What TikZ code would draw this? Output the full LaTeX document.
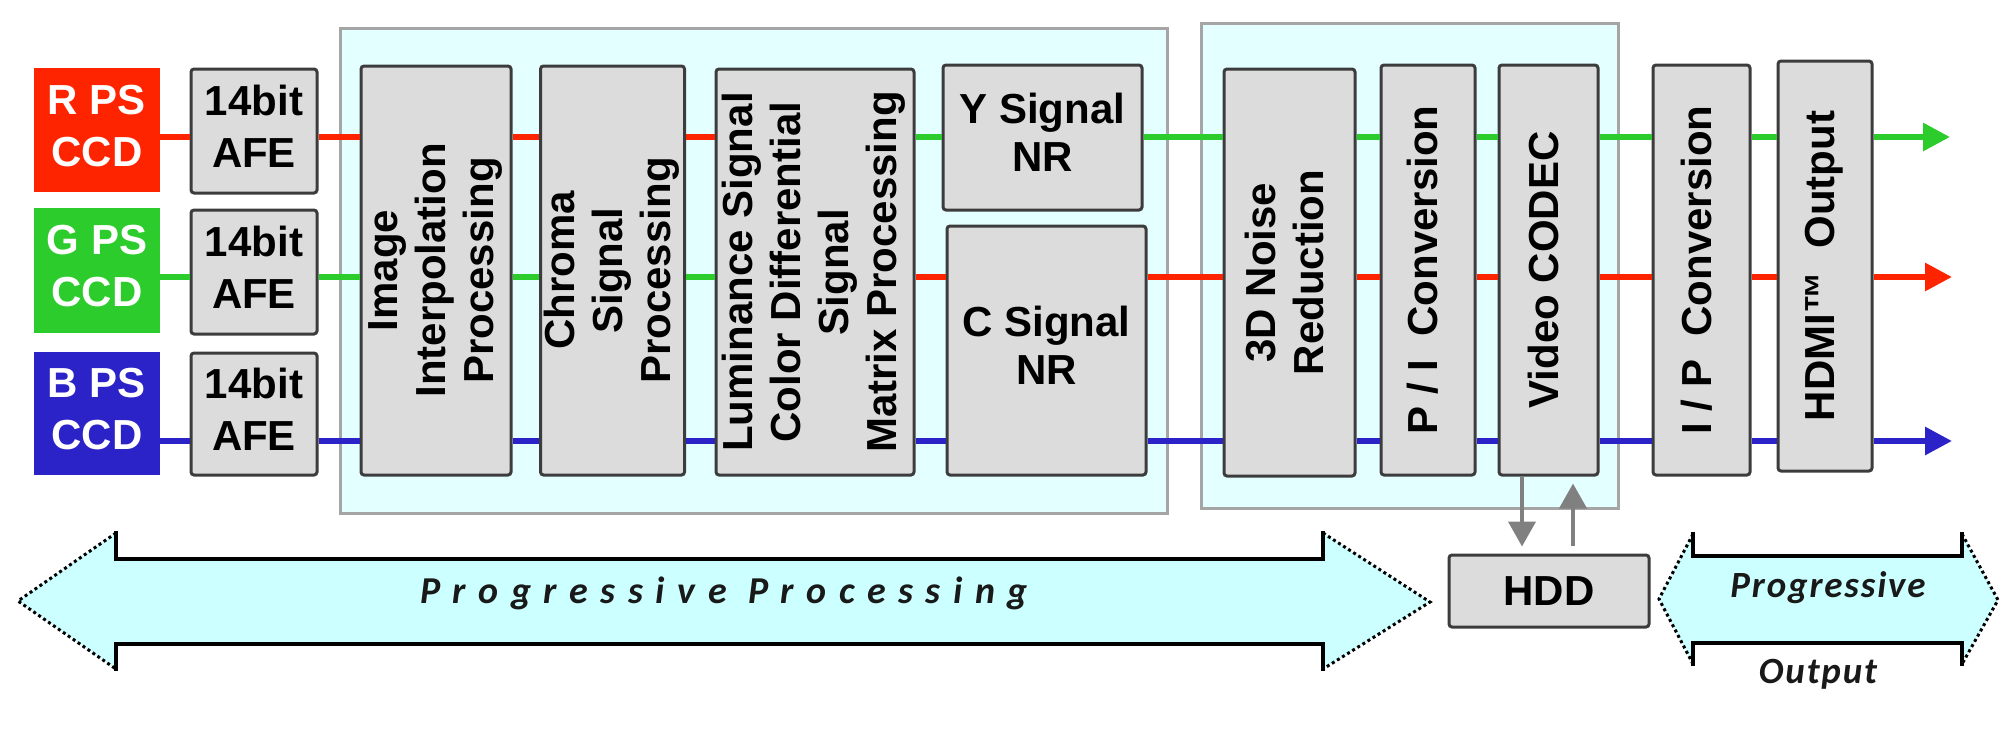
\documentclass[tikz,border=0pt]{standalone}
\usepackage{fontspec}
\setmainfont{Liberation Sans}
\newfontfamily\arrowfont[LetterSpace=5]{Carlito}
\newfontfamily\arrowfontwide[LetterSpace=33]{Carlito}
\usetikzlibrary{arrows.meta}
\definecolor{sigR}{RGB}{255,36,0}
\definecolor{sigG}{RGB}{44,204,44}
\definecolor{sigB}{RGB}{43,34,200}
\definecolor{boxfill}{RGB}{220,220,220}
\definecolor{boxline}{RGB}{60,60,60}
\definecolor{panelfill}{RGB}{227,255,255}
\definecolor{panelline}{RGB}{165,165,165}
\definecolor{arrowfill}{RGB}{204,255,255}
\definecolor{hddgray}{RGB}{128,128,128}
\definecolor{textdark}{RGB}{25,25,25}
\newcommand\vlab[1]{\rotatebox{90}{\begin{tabular}{@{}c@{}}#1\end{tabular}}}
\newcommand\hlab[1]{\begin{tabular}{@{}c@{}}#1\end{tabular}}
\newcommand\clab[1]{\raisebox{-5pt}{\fontsize{42}{52}\selectfont\begin{tabular}{@{}c@{}}#1\end{tabular}}}
\tikzset{
  sz/.style 2 args={minimum width=#1pt, minimum height=#2pt},
  blk/.style={draw=boxline, fill=boxfill, line width=3pt, rounded corners=3pt, inner sep=0pt},
  ccd/.style={fill=#1, text=white, inner sep=0pt},
  panel/.style={draw=panelline, fill=panelfill, line width=3pt, inner sep=0pt},
  sigline/.style={line width=6pt},
  outarr/.style={sigline, -{Triangle[length=27pt,width=27pt]}},
  hddarr/.style={draw=hddgray, line width=4pt, -{Triangle[length=25pt,width=27pt]}},
  bigarrow/.style={fill=arrowfill},
  solidedge/.style={line width=3.5pt, line cap=rect},
  dotedge/.style={line width=3pt, dash pattern=on 3pt off 3pt},
  arrtext/.style={text=textdark, anchor=base},
}
\begin{document}
\begin{tikzpicture}[x=1pt,y=-1pt, font=\fontsize{42}{48}\selectfont\bfseries]
\useasboundingbox (0,0) rectangle (2000,734);

% panels
\node[panel, sz={827}{485}] (p1) at (753.5,270.5) {};
\node[panel, sz={417}{485}] (p2) at (1409.5,265.5) {};

% sensor blocks
\node[ccd=sigR, sz={126}{124}] (rccd) at (97,130) {\clab{R PS\\CCD}};
\node[ccd=sigG, sz={126}{125}] (gccd) at (97,270.5) {\clab{G PS\\CCD}};
\node[ccd=sigB, sz={126}{123}] (bccd) at (97,413.5) {\clab{B PS\\CCD}};

\node[blk, sz={126}{124}] (rafe) at (254,131) {\clab{14bit\\AFE}};
\node[blk, sz={126}{124}] (gafe) at (254,272) {\clab{14bit\\AFE}};
\node[blk, sz={126}{122}] (bafe) at (254,414) {\clab{14bit\\AFE}};

% processing blocks
\node[blk, sz={150}{409}] (interp) at (436,270.5) {\vlab{Image\\Interpolation\\Processing}};
\node[blk, sz={141}{409}] (chroma) at (612.5,270.5) {\vlab{Chroma\\Signal\\Processing}};
\node[blk, sz={198}{406}] (lum) at (815,272) {\vlab{Luminance Signal\\Color Differential\\Signal\\Matrix Processing}};
\node[blk, sz={199}{145}] (ynr) at (1042.5,137.5) {\hlab{Y Signal\\NR}};
\node[blk, sz={199}{249}] (cnr) at (1046.5,350.5) {\raisebox{3pt}{\hlab{C Signal\\NR}}};
\node[blk, sz={131}{407}] (nr3d) at (1289.5,272.5) {\vlab{3D Noise\\Reduction}};
\node[blk, sz={94}{410}] (pi) at (1428,270) {\vlab{P / I~~Conversion}};
\node[blk, sz={99}{410}] (codec) at (1548.5,270) {\vlab{Video CODEC}};
\node[blk, sz={97}{410}] (ip) at (1701.5,270) {\vlab{I / P~~Conversion}};
\node[blk, sz={94}{410}] (hdmi) at (1825,266) {\vlab{HDMI™~~Output}};
\node[blk, sz={200}{72}] (hdd) at (1549,591) {HDD};

% signal rows
\coordinate (yT) at (0,137);
\coordinate (yM) at (0,277);
\coordinate (yB) at (0,441);
\coordinate (outT) at (1950,137);
\coordinate (outM) at (1952,277);
\coordinate (outB) at (1952,441);

\foreach \a/\b in {rccd/rafe, rafe/interp, interp/chroma, chroma/lum}
  \draw[sigline, sigR] (\a.east|-yT) -- (\b.west|-yT);
\foreach \a/\b in {gccd/gafe, gafe/interp, interp/chroma, chroma/lum}
  \draw[sigline, sigG] (\a.east|-yM) -- (\b.west|-yM);
\foreach \a/\b in {bccd/bafe, bafe/interp, interp/chroma, chroma/lum, lum/cnr, cnr/nr3d, nr3d/pi, pi/codec, codec/ip, ip/hdmi}
  \draw[sigline, sigB] (\a.east|-yB) -- (\b.west|-yB);
\foreach \a/\b in {lum/ynr, ynr/nr3d, nr3d/pi, pi/codec, codec/ip, ip/hdmi}
  \draw[sigline, sigG] (\a.east|-yT) -- (\b.west|-yT);
\foreach \a/\b in {lum/cnr, cnr/nr3d, nr3d/pi, pi/codec, codec/ip, ip/hdmi}
  \draw[sigline, sigR] (\a.east|-yM) -- (\b.west|-yM);
\draw[outarr, sigG] (hdmi.east|-yT) -- (outT);
\draw[outarr, sigR] (hdmi.east|-yM) -- (outM);
\draw[outarr, sigB] (hdmi.east|-yB) -- (outB);

% HDD links
\coordinate (dnx) at (1522,0);
\coordinate (upx) at (1573,0);
\draw[hddarr, shorten >=7pt] (codec.south-|dnx) -- (hdd.north-|dnx);
\draw[hddarr, shorten >=7pt, shorten <=8pt] (hdd.north-|upx) -- (codec.south-|upx);

% big progressive processing arrow
\fill[bigarrow] (18,601) -- (116,533) -- (116,559) -- (1323,559) -- (1323,533) -- (1430,602)
  -- (1323,669) -- (1323,644) -- (116,644) -- (116,669) -- cycle;
\draw[solidedge] (116,533) -- (116,559) -- (1323,559) -- (1323,533);
\draw[solidedge] (116,669) -- (116,644) -- (1323,644) -- (1323,669);
\draw[dotedge] (116,533) -- (18,601) -- (116,669);
\draw[dotedge] (1323,533) -- (1430,602) -- (1323,669);
\node[arrtext, font=\fontsize{38}{44}\selectfont\arrowfontwide\bfseries\itshape] (pptext) at (724,603) {Progressive Processing};

% progressive output arrow
\fill[bigarrow] (1659,599) -- (1693,534) -- (1693,556) -- (1962,556) -- (1962,534) -- (1998,600)
  -- (1962,664) -- (1962,643) -- (1693,643) -- (1693,664) -- cycle;
\draw[solidedge] (1693,534) -- (1693,556) -- (1962,556) -- (1962,534);
\draw[solidedge] (1693,664) -- (1693,643) -- (1962,643) -- (1962,664);
\draw[dotedge] (1693,534) -- (1659,599) -- (1693,664);
\draw[dotedge] (1962,534) -- (1998,600) -- (1962,664);
\node[arrtext, font=\fontsize{37}{44}\selectfont\arrowfont\bfseries\itshape] (potext1) at (1828,597) {Progressive};
\node[arrtext, font=\fontsize{37}{44}\selectfont\arrowfont\bfseries\itshape] (potext2) at (1818,683) {Output};
\end{tikzpicture}
\end{document}
